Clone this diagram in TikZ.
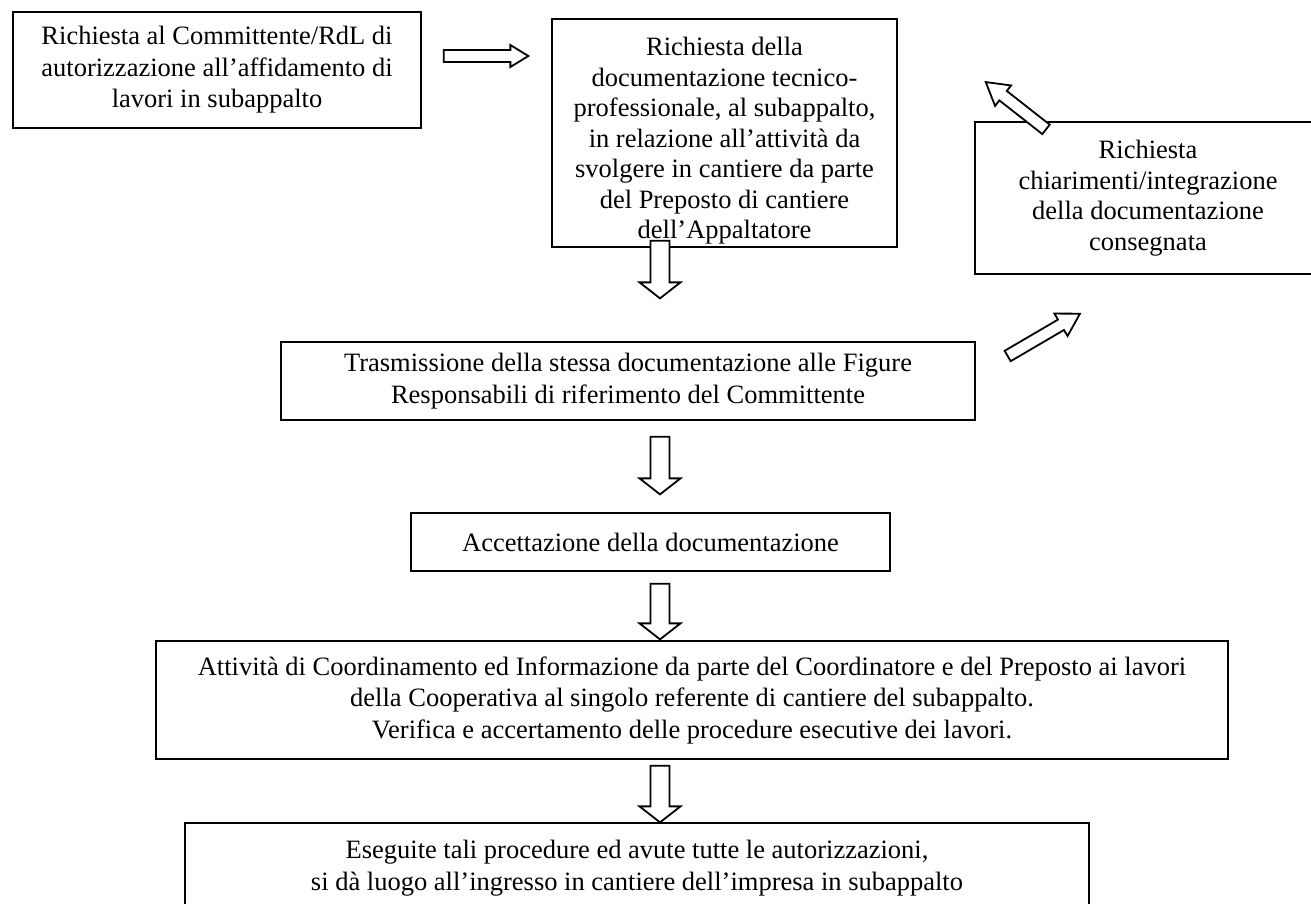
\documentclass[tikz,border=0pt]{standalone}
\usepackage{fontspec}
\setmainfont{Liberation Serif}
\usetikzlibrary{calc,positioning}
\tikzset{
    %Define style for boxes
    procbox/.style={
           rectangle,
           draw=black, line width=1.3pt,
           inner sep=0pt,
           font=\fontsize{26.5}{31.5}\selectfont,
           align=center},
    % Define hollow arrow style
    blockarr/.style n args={3}{
           draw=black, line width=1.8pt, fill=white,
           to path={let \p1=(\tikztostart), \p2=(\tikztotarget),
               \n1={atan2(\y2-\y1,\x2-\x1)}, \n2={veclen(\x2-\x1,\y2-\y1)} in
               {[shift={(\p1)}, rotate=\n1]
               (0pt,-#1) -- (\n2-#3,-#1) -- (\n2-#3,-#2) -- (\n2,0pt)
               -- (\n2-#3,#2) -- (\n2-#3,#1) -- (0pt,#1) -- cycle}}}
}

\begin{document}
\begin{tikzpicture}[x=1pt,y=-1pt]
\useasboundingbox (0,0) rectangle (1311,903);

 %nodes
\node[procbox, minimum width=408, minimum height=116] (1) at (217,70)
  {Richiesta al Committente/RdL di\\autorizzazione all’affidamento di\\lavori in subappalto};
\node[procbox, minimum width=345, minimum height=228, text height=217pt,
  font=\fontsize{26.5}{30.5}\selectfont] (2) at (724.5,133)
  {Richiesta della\\documentazione tecnico-\\professionale, al subappalto,\\in relazione all’attività da\\svolgere in cantiere da parte\\del Preposto di cantiere\\dell’Appaltatore};
\node[procbox, minimum width=346, minimum height=152,
  font=\fontsize{26.5}{30.5}\selectfont] (3) at (1148,198)
  {Richiesta\\chiarimenti/integrazione\\della documentazione\\consegnata};
\node[procbox, minimum width=694, minimum height=78] (4) at (628,381)
  {Trasmissione della stessa documentazione alle Figure\\Responsabili di riferimento del Committente};
\node[procbox, minimum width=479, minimum height=58] (5) at (650.5,542)
  {Accettazione della documentazione};
\node[procbox, minimum width=1072, minimum height=118] (6) at (692,700)
  {Attività di Coordinamento ed Informazione da parte del Coordinatore e del Preposto ai lavori\\della Cooperativa al singolo referente di cantiere del subappalto.\\Verifica e accertamento delle procedure esecutive dei lavori.};
\node[procbox, minimum width=904, minimum height=90] (7) at (637,868)
  {Eseguite tali procedure ed avute tutte le autorizzazioni,\\si dà luogo all’ingresso in cantiere dell’impresa in subappalto};

\coordinate (ax) at (660,0);

 %arrows
\draw[blockarr={6pt}{11pt}{18pt}] ($(1.east)+(22,-14)$) to ($(2.west)+(-23,-77)$);
\draw[blockarr={9.5pt}{20.5pt}{16pt}] ($(2.south -| ax)+(0,-7)$) to ($(4.north -| ax)+(0,-43)$);
\draw[blockarr={9.5pt}{20.5pt}{16pt}] ($(4.south -| ax)+(0,16)$) to ($(5.north -| ax)+(0,-18)$);
\draw[blockarr={9.5pt}{20.5pt}{16pt}] ($(5.south -| ax)+(0,12)$) to ($(6.north -| ax)+(0,-1)$);
\draw[blockarr={9.5pt}{20.5pt}{16pt}] ($(6.south -| ax)+(0,6)$) to (7.north -| ax);
\draw[blockarr={6pt}{13pt}{22pt}] ($(3.north)+(-102,8)$) to ($(2.east)+(88,-51)$);
\draw[blockarr={6pt}{13pt}{22pt}] ($(4.east)+(32,-25)$) to ($(3.south)+(-68,39)$);
\end{tikzpicture}
\end{document}
